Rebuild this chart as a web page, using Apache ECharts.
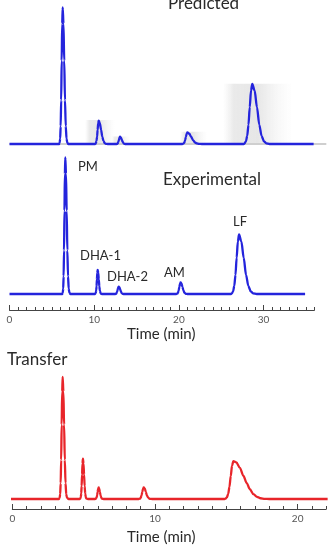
<!DOCTYPE html>
<html>
<head>
<meta charset="utf-8">
<script src="https://cdn.jsdelivr.net/npm/echarts@6/dist/echarts.min.js"></script>
<style>
  html, body { margin: 0; padding: 0; background: #fff; }
  #main { width: 333px; height: 547px; }
</style>
</head>
<body>
<div id="main"></div>
<script>
// chromatogram traces, [time (min), signal as % of tallest peak]
var predicted = [
  [0, 0], [5.85, 0],
  [5.92, 1], [5.98, 4], [6.04, 13], [6.10, 32], [6.16, 61], [6.22, 88], [6.28, 100],
  [6.37, 88], [6.46, 61], [6.55, 32], [6.64, 13], [6.73, 4], [6.82, 1], [6.95, 0],
  [10.05, 0], [10.14, 0.2], [10.2, 0.7], [10.27, 2.3], [10.34, 5.4], [10.4, 10.4], [10.47, 15], [10.53, 17],
  [10.67, 15], [10.81, 10.4], [10.95, 5.4], [11.09, 2.3], [11.23, 0.7], [11.37, 0.2], [11.6, 0],
  [12.6, 0], [12.73, 0.2], [12.79, 0.7], [12.86, 1.7], [12.92, 3.2], [12.99, 4.7], [13.05, 5.3],
  [13.15, 4.7], [13.25, 3.2], [13.35, 1.7], [13.45, 0.7], [13.55, 0.2], [13.7, 0],
  [20.4, 0], [20.55, 0.4], [20.64, 1.1], [20.73, 2.7], [20.82, 5.2], [20.91, 7.5], [21.0, 8.5],
  [21.23, 7.5], [21.45, 5.2], [21.68, 2.7], [21.9, 1.1], [22.13, 0.4], [22.35, 0.1], [22.7, 0],
  [27.65, 0], [27.76, 0.5], [27.91, 1.9], [28.06, 5.9], [28.21, 14], [28.36, 27], [28.51, 39], [28.66, 44],
  [28.94, 39], [29.21, 27], [29.49, 14], [29.76, 5.9], [30.04, 1.9], [30.31, 0.5], [30.7, 0],
  [35.9, 0]
]
var experimental = [
  [0, 0], [6.22, 0],
  [6.29, 1], [6.34, 4], [6.39, 13], [6.44, 32], [6.49, 61], [6.54, 88], [6.59, 100],
  [6.67, 88], [6.75, 61], [6.83, 32], [6.91, 13], [6.99, 4], [7.07, 1], [7.2, 0],
  [10.08, 0], [10.14, 0.2], [10.19, 0.8], [10.23, 2.4], [10.28, 5.6], [10.32, 10.7], [10.37, 15.5], [10.41, 17.6],
  [10.48, 15.5], [10.54, 10.7], [10.61, 5.6], [10.67, 2.4], [10.74, 0.8], [10.8, 0.2], [10.95, 0],
  [12.45, 0], [12.58, 0.2], [12.64, 0.7], [12.71, 1.7], [12.77, 3.3], [12.84, 4.8], [12.9, 5.4],
  [12.99, 4.8], [13.07, 3.3], [13.16, 1.7], [13.24, 0.7], [13.33, 0.2], [13.5, 0],
  [19.68, 0], [19.83, 0.4], [19.9, 1.1], [19.98, 2.7], [20.05, 5.2], [20.13, 7.5], [20.2, 8.5],
  [20.31, 7.5], [20.42, 5.2], [20.53, 2.7], [20.64, 1.1], [20.75, 0.4], [20.86, 0.1], [21.0, 0],
  [26.15, 0], [26.26, 0.5], [26.4, 1.9], [26.54, 5.9], [26.68, 14], [26.82, 26.6], [26.96, 38.4], [27.1, 43.6],
  [27.38, 38.4], [27.65, 26.6], [27.93, 14], [28.2, 5.9], [28.48, 1.9], [28.75, 0.5], [29.2, 0],
  [34.9, 0]
]
var transfer = [
  [-0.86, 0], [3.27, 0],
  [3.32, 1], [3.355, 4], [3.39, 13], [3.425, 32], [3.46, 61], [3.495, 88], [3.53, 100],
  [3.58, 88], [3.63, 61], [3.68, 32], [3.73, 13], [3.78, 4], [3.83, 1], [3.95, 0],
  [4.72, 0], [4.77, 0.4], [4.8, 1.5], [4.83, 4.5], [4.86, 10.6], [4.89, 20], [4.92, 29], [4.95, 33],
  [4.99, 29], [5.03, 20], [5.07, 10.6], [5.11, 4.5], [5.15, 1.5], [5.19, 0.4], [5.3, 0],
  [5.8, 0], [5.875, 0.4], [5.91, 1.3], [5.945, 3], [5.98, 5.8], [6.015, 8.4], [6.05, 9.5],
  [6.095, 8.4], [6.14, 5.8], [6.185, 3], [6.23, 1.3], [6.275, 0.4], [6.32, 0.1], [6.4, 0],
  [8.86, 0], [8.96, 0.4], [9.01, 1.3], [9.06, 3], [9.11, 5.8], [9.16, 8.4], [9.21, 9.5],
  [9.285, 8.4], [9.36, 5.8], [9.435, 3], [9.51, 1.3], [9.585, 0.4], [9.66, 0.1], [9.8, 0],
  [14.88, 0], [14.95, 0.3], [15.04, 1.4], [15.13, 4.2], [15.22, 9.9], [15.31, 18.9], [15.4, 27.3], [15.49, 31],
  [15.7, 30], [15.95, 25.5], [16.2, 19], [16.43, 13], [16.65, 8], [16.9, 4], [17.15, 1.8], [17.4, 0.6], [17.7, 0.1], [18.0, 0],
  [22.1, 0]
]
// spread of the simulated runs (grey curtain) around each predicted peak
var bandStart = [8.9, 12.1, 20.1, 25.2]
var bandEnd = [12.45, 14.2, 23.3, 33.4]
var bandHeight = [17.5, 5.5, 9, 44]
var spreadEnd = 37.4

var peakNames = ['PM', 'DHA-1', 'DHA-2', 'AM', 'LF']

var myChart = echarts.init(document.getElementById('main'))

var blue = '#2424dc'
var red = '#e8252a'
var font = 'Lato, "Open Sans", sans-serif'

function bandSeries(i) {
  return {
    type: 'line',
    xAxisIndex: 0,
    yAxisIndex: 0,
    symbol: 'none',
    silent: true,
    lineStyle: { width: 0 },
    areaStyle: {
      color: new echarts.graphic.LinearGradient(0, 0, 1, 0, [
        { offset: 0, color: 'rgba(170,170,170,0)' },
        { offset: 0.15, color: 'rgba(140,140,140,0.26)' },
        { offset: 0.5, color: 'rgba(140,140,140,0.3)' },
        { offset: 0.8, color: 'rgba(160,160,160,0.1)' },
        { offset: 1, color: 'rgba(170,170,170,0)' }
      ])
    },
    data: [
      [bandStart[i], 0],
      [bandStart[i] + 0.05, bandHeight[i]],
      [bandEnd[i] - 0.05, bandHeight[i]],
      [bandEnd[i], 0]
    ]
  }
}

function minorAxis(grid, max, offset) {
  return {
    type: 'value', gridIndex: grid, position: 'bottom', min: 0, max: max, interval: 1, offset: offset,
    axisLine: { onZero: false, lineStyle: { color: '#444', width: 1 } },
    axisTick: { inside: true, length: 3, lineStyle: { color: '#444' } },
    axisLabel: { show: false },
    splitLine: { show: false }
  }
}
function majorAxis(grid, max, offset) {
  return {
    type: 'value', gridIndex: grid, position: 'bottom', min: 0, max: max, interval: 10, offset: offset,
    axisLine: { show: false, onZero: false },
    axisTick: { inside: true, length: 5, lineStyle: { color: '#444' } },
    axisLabel: { fontSize: 10, color: '#555', margin: 5, fontFamily: font, showMaxLabel: false },
    splitLine: { show: false }
  }
}

var texts = [
  { t: 'Predicted', x: 168, y: 4, s: 17 },
  { t: 'Experimental', x: 163, y: 180, s: 17 },
  { t: peakNames[0], x: 78, y: 167, s: 13 },
  { t: peakNames[1], x: 80, y: 256, s: 13 },
  { t: peakNames[2], x: 107, y: 277, s: 13 },
  { t: peakNames[3], x: 164, y: 273, s: 13 },
  { t: peakNames[4], x: 233, y: 222, s: 13 },
  { t: 'Transfer', x: 7, y: 360, s: 17 },
  { t: 'Time (min)', x: 127, y: 334, s: 15 },
  { t: 'Time (min)', x: 127, y: 537, s: 15 }
]

function trace(name, data, xi, yi, color) {
  return {
    name: name, type: 'line', xAxisIndex: xi, yAxisIndex: yi,
    symbol: 'none', smooth: 0.3, smoothMonotone: 'x', clip: false,
    lineStyle: { color: color, width: 2.3 },
    data: data
  }
}

var option = {
  animation: false,
  grid: [
    { left: 9.5, top: 7.3, width: 321.9, height: 136.7 },
    { left: 9.5, top: 157.5, width: 304.9, height: 136.5 },
    { left: 12.3, top: 377, width: 313.9, height: 122 }
  ],
  xAxis: [
    { type: 'value', gridIndex: 0, min: 0, max: 38, show: false },
    minorAxis(1, 36, 16),
    majorAxis(1, 36, 16),
    minorAxis(2, 22, 10),
    majorAxis(2, 22, 10)
  ],
  yAxis: [
    { type: 'value', gridIndex: 0, min: 0, max: 100, show: false },
    { type: 'value', gridIndex: 1, min: 0, max: 100, show: false },
    { type: 'value', gridIndex: 2, min: 0, max: 100, show: false }
  ],
  graphic: texts.map(function (d) {
    return {
      type: 'text',
      style: {
        text: d.t, x: d.x, y: d.y,
        font: d.s + 'px ' + font,
        fill: '#2a2a2a',
        align: 'left',
        verticalAlign: 'middle'
      }
    }
  }),
  series: [
    bandSeries(0), bandSeries(1), bandSeries(2), bandSeries(3),
    {
      type: 'line', xAxisIndex: 0, yAxisIndex: 0, symbol: 'none', silent: true,
      lineStyle: { color: '#cfcfcf', width: 2 },
      data: [[0, 0], [spreadEnd, 0]]
    },
    trace('Predicted', predicted, 0, 0, blue),
    trace('Experimental', experimental, 1, 1, blue),
    trace('Transfer', transfer, 3, 2, red)
  ]
}

option && myChart.setOption(option, true)
</script>
</body>
</html>
